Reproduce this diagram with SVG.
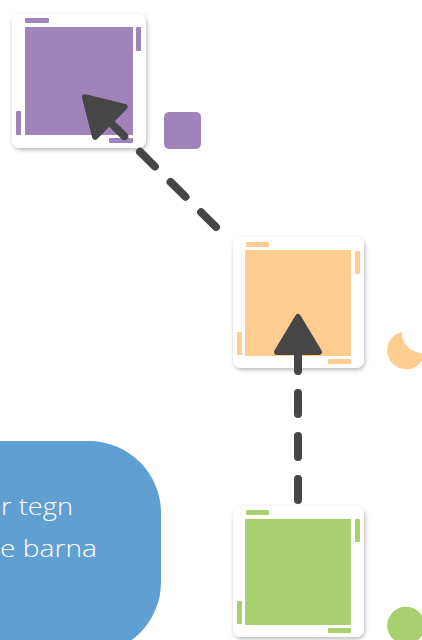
<svg xmlns="http://www.w3.org/2000/svg" width="422" height="640" viewBox="0 0 422 640">
  <defs>
    <filter id="sh" x="-20%" y="-20%" width="140%" height="140%">
      <feDropShadow dx="1" dy="2" stdDeviation="2" flood-color="#000" flood-opacity="0.28"/>
    </filter>
    <marker id="ah" markerUnits="userSpaceOnUse" viewBox="-5 -30 55 60" markerWidth="55" markerHeight="60" refX="0" refY="0" orient="auto" overflow="visible">
      <path d="M3,-21 L38,0 L3,21 Z" fill="#464646" stroke="#464646" stroke-width="6" stroke-linejoin="round"/>
    </marker>
  </defs>
  <style>
    .card { fill: #ffffff; filter: url(#sh); }
    .purple { fill: #a083bb; }
    .orange { fill: #fecd8f; }
    .green { fill: #a8d06f; }
    .conn { fill: none; stroke: #464646; stroke-width: 8; stroke-linecap: round; stroke-dasharray: 21 22; marker-end: url(#ah); }
    .label { font-family: "Open Sans", "Liberation Sans", sans-serif; font-weight: 300; font-size: 23px; fill: #ffffff; }
  </style>
  <rect width="422" height="640" fill="#ffffff"/>

  <g id="text-box">
    <rect x="-80" y="441" width="241" height="213" rx="72" fill="#609fd2"/>
    <text class="label" x="1" y="515" textLength="72" lengthAdjust="spacingAndGlyphs">r tegn</text>
    <text class="label" x="0" y="557" textLength="97" lengthAdjust="spacingAndGlyphs">e barna</text>
  </g>

  <g id="node-purple">
    <rect class="card" x="12" y="14" width="134" height="134" rx="8"/>
    <rect class="purple" x="25" y="27" width="108" height="108"/>
    <rect class="purple" x="25" y="18" width="24" height="5" rx="1"/>
    <rect class="purple" x="136" y="27" width="5" height="24" rx="1"/>
    <rect class="purple" x="16" y="111" width="5" height="24" rx="1"/>
    <rect class="purple" x="109" y="138" width="24" height="5" rx="1"/>
    <rect class="purple" x="164" y="112" width="37" height="37" rx="5"/>
  </g>

  <g id="node-orange">
    <rect class="card" x="233" y="237" width="131" height="131" rx="8"/>
    <rect class="orange" x="245" y="250" width="106" height="106"/>
    <rect class="orange" x="246" y="242" width="23" height="5" rx="1"/>
    <rect class="orange" x="355" y="251" width="5" height="23" rx="1"/>
    <rect class="orange" x="237" y="332" width="5" height="23" rx="1"/>
    <rect class="orange" x="328" y="359" width="23" height="5" rx="1"/>
    <path class="orange" d="M402.02,332.12 A18.8,18.8 0 1 0 424.66,352.82 A20,20 0 0 1 402.02,332.12 Z"/>
  </g>

  <g id="node-green">
    <rect class="card" x="233" y="506" width="131" height="131" rx="8"/>
    <rect class="green" x="245" y="519" width="106" height="106"/>
    <rect class="green" x="246" y="510" width="23" height="5" rx="1"/>
    <rect class="green" x="355" y="519" width="5" height="23" rx="1"/>
    <rect class="green" x="237" y="601" width="5" height="23" rx="1"/>
    <rect class="green" x="328" y="628" width="23" height="5" rx="1"/>
    <circle class="green" cx="406" cy="625.5" r="18.8"/>
  </g>

  <g id="connectors">
    <path class="conn" d="M298,500 L298,355"/>
    <path class="conn" d="M216,227 L112,124"/>
  </g>
</svg>
